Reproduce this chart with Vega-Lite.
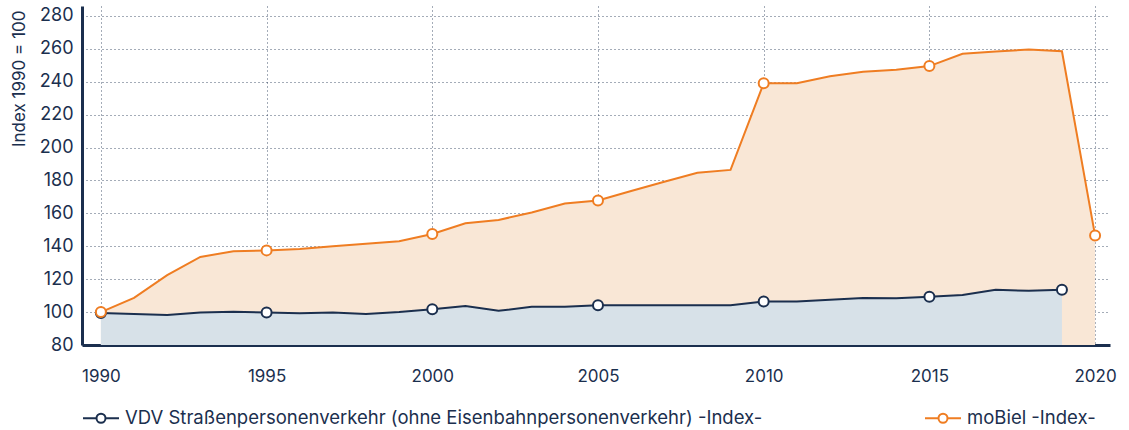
{
  "$schema": "https://vega.github.io/schema/vega-lite/v6.json",
  "width": 1028,
  "height": 339,
  "autosize": {"type": "none"},
  "padding": {"left": 82, "top": 6, "right": 19, "bottom": 85},
  "background": "white",
  "config": {
    "font": "Inter",
    "view": {"stroke": null},
    "axis": {"zindex": 1}
  },
  "data": {
    "values": [
      {"year": 1990, "series": "moBiel -Index-", "value": 100},
      {"year": 1991, "series": "moBiel -Index-", "value": 108.6},
      {"year": 1992, "series": "moBiel -Index-", "value": 122.5},
      {"year": 1993, "series": "moBiel -Index-", "value": 133.5},
      {"year": 1994, "series": "moBiel -Index-", "value": 137},
      {"year": 1995, "series": "moBiel -Index-", "value": 137.5},
      {"year": 1996, "series": "moBiel -Index-", "value": 138.4},
      {"year": 1997, "series": "moBiel -Index-", "value": 140},
      {"year": 1998, "series": "moBiel -Index-", "value": 141.5},
      {"year": 1999, "series": "moBiel -Index-", "value": 143},
      {"year": 2000, "series": "moBiel -Index-", "value": 147.5},
      {"year": 2001, "series": "moBiel -Index-", "value": 154},
      {"year": 2002, "series": "moBiel -Index-", "value": 156},
      {"year": 2003, "series": "moBiel -Index-", "value": 160.5},
      {"year": 2004, "series": "moBiel -Index-", "value": 166},
      {"year": 2005, "series": "moBiel -Index-", "value": 167.8},
      {"year": 2006, "series": "moBiel -Index-", "value": 173.6},
      {"year": 2007, "series": "moBiel -Index-", "value": 179.2},
      {"year": 2008, "series": "moBiel -Index-", "value": 184.7},
      {"year": 2009, "series": "moBiel -Index-", "value": 186.4},
      {"year": 2010, "series": "moBiel -Index-", "value": 239},
      {"year": 2011, "series": "moBiel -Index-", "value": 239},
      {"year": 2012, "series": "moBiel -Index-", "value": 243.3},
      {"year": 2013, "series": "moBiel -Index-", "value": 246},
      {"year": 2014, "series": "moBiel -Index-", "value": 247.3},
      {"year": 2015, "series": "moBiel -Index-", "value": 249.5},
      {"year": 2016, "series": "moBiel -Index-", "value": 257},
      {"year": 2017, "series": "moBiel -Index-", "value": 258.3},
      {"year": 2018, "series": "moBiel -Index-", "value": 259.5},
      {"year": 2019, "series": "moBiel -Index-", "value": 258.5},
      {"year": 2020, "series": "moBiel -Index-", "value": 146.5},
      {"year": 1990, "series": "VDV Straßenpersonenverkehr (ohne Eisenbahnpersonenverkehr) -Index-", "value": 99.5},
      {"year": 1991, "series": "VDV Straßenpersonenverkehr (ohne Eisenbahnpersonenverkehr) -Index-", "value": 98.8},
      {"year": 1992, "series": "VDV Straßenpersonenverkehr (ohne Eisenbahnpersonenverkehr) -Index-", "value": 98.2},
      {"year": 1993, "series": "VDV Straßenpersonenverkehr (ohne Eisenbahnpersonenverkehr) -Index-", "value": 99.8},
      {"year": 1994, "series": "VDV Straßenpersonenverkehr (ohne Eisenbahnpersonenverkehr) -Index-", "value": 100.2},
      {"year": 1995, "series": "VDV Straßenpersonenverkehr (ohne Eisenbahnpersonenverkehr) -Index-", "value": 99.8},
      {"year": 1996, "series": "VDV Straßenpersonenverkehr (ohne Eisenbahnpersonenverkehr) -Index-", "value": 99.3},
      {"year": 1997, "series": "VDV Straßenpersonenverkehr (ohne Eisenbahnpersonenverkehr) -Index-", "value": 99.8},
      {"year": 1998, "series": "VDV Straßenpersonenverkehr (ohne Eisenbahnpersonenverkehr) -Index-", "value": 98.9},
      {"year": 1999, "series": "VDV Straßenpersonenverkehr (ohne Eisenbahnpersonenverkehr) -Index-", "value": 100},
      {"year": 2000, "series": "VDV Straßenpersonenverkehr (ohne Eisenbahnpersonenverkehr) -Index-", "value": 101.7},
      {"year": 2001, "series": "VDV Straßenpersonenverkehr (ohne Eisenbahnpersonenverkehr) -Index-", "value": 103.7},
      {"year": 2002, "series": "VDV Straßenpersonenverkehr (ohne Eisenbahnpersonenverkehr) -Index-", "value": 100.8},
      {"year": 2003, "series": "VDV Straßenpersonenverkehr (ohne Eisenbahnpersonenverkehr) -Index-", "value": 103.2},
      {"year": 2004, "series": "VDV Straßenpersonenverkehr (ohne Eisenbahnpersonenverkehr) -Index-", "value": 103.2},
      {"year": 2005, "series": "VDV Straßenpersonenverkehr (ohne Eisenbahnpersonenverkehr) -Index-", "value": 104.2},
      {"year": 2006, "series": "VDV Straßenpersonenverkehr (ohne Eisenbahnpersonenverkehr) -Index-", "value": 104.2},
      {"year": 2007, "series": "VDV Straßenpersonenverkehr (ohne Eisenbahnpersonenverkehr) -Index-", "value": 104.2},
      {"year": 2008, "series": "VDV Straßenpersonenverkehr (ohne Eisenbahnpersonenverkehr) -Index-", "value": 104.2},
      {"year": 2009, "series": "VDV Straßenpersonenverkehr (ohne Eisenbahnpersonenverkehr) -Index-", "value": 104.2},
      {"year": 2010, "series": "VDV Straßenpersonenverkehr (ohne Eisenbahnpersonenverkehr) -Index-", "value": 106.5},
      {"year": 2011, "series": "VDV Straßenpersonenverkehr (ohne Eisenbahnpersonenverkehr) -Index-", "value": 106.5},
      {"year": 2012, "series": "VDV Straßenpersonenverkehr (ohne Eisenbahnpersonenverkehr) -Index-", "value": 107.5},
      {"year": 2013, "series": "VDV Straßenpersonenverkehr (ohne Eisenbahnpersonenverkehr) -Index-", "value": 108.5},
      {"year": 2014, "series": "VDV Straßenpersonenverkehr (ohne Eisenbahnpersonenverkehr) -Index-", "value": 108.4},
      {"year": 2015, "series": "VDV Straßenpersonenverkehr (ohne Eisenbahnpersonenverkehr) -Index-", "value": 109.3},
      {"year": 2016, "series": "VDV Straßenpersonenverkehr (ohne Eisenbahnpersonenverkehr) -Index-", "value": 110.4},
      {"year": 2017, "series": "VDV Straßenpersonenverkehr (ohne Eisenbahnpersonenverkehr) -Index-", "value": 113.5},
      {"year": 2018, "series": "VDV Straßenpersonenverkehr (ohne Eisenbahnpersonenverkehr) -Index-", "value": 112.9},
      {"year": 2019, "series": "VDV Straßenpersonenverkehr (ohne Eisenbahnpersonenverkehr) -Index-", "value": 113.6}
    ]
  },
  "encoding": {
    "x": {
      "field": "year",
      "type": "quantitative",
      "scale": {"domain": [1989.43, 2020.45], "nice": false, "zero": false},
      "axis": {
        "values": [1990, 1995, 2000, 2005, 2010, 2015, 2020],
        "format": "d",
        "title": null,
        "ticks": false,
        "labelPadding": 23,
        "labelFontSize": 17,
        "labelColor": "#1b2f4e",
        "domainColor": "#1b2f4e",
        "domainWidth": 3,
        "grid": true,
        "gridColor": "#1b2f4e",
        "gridDash": [1, 3],
        "gridWidth": 1,
        "gridOpacity": 0.8
      }
    },
    "y": {
      "field": "value",
      "type": "quantitative",
      "scale": {"domain": [80, 286], "nice": false, "zero": false},
      "axis": {
        "values": [80, 100, 120, 140, 160, 180, 200, 220, 240, 260, 280],
        "title": "Index 1990 = 100",
        "titleFontSize": 17,
        "titleFontWeight": "normal",
        "titleColor": "#1b2f4e",
        "titleAnchor": "end",
        "titleY": 4,
        "titlePadding": 11,
        "ticks": false,
        "labelPadding": 9,
        "labelFontSize": 18,
        "labelColor": "#1b2f4e",
        "domainColor": "#1b2f4e",
        "domainWidth": 3,
        "grid": true,
        "gridColor": "#1b2f4e",
        "gridDash": [1, 3],
        "gridWidth": 1,
        "gridOpacity": 0.8
      }
    }
  },
  "layer": [
    {
      "transform": [{"filter": "datum.series == 'moBiel -Index-'"}],
      "mark": {"type": "area", "color": "#f9e7d6", "clip": true}
    },
    {
      "transform": [{"filter": "datum.series != 'moBiel -Index-'"}],
      "mark": {"type": "area", "color": "#d7e1e8", "clip": true}
    },
    {
      "mark": {"type": "line", "strokeWidth": 2, "clip": true},
      "encoding": {
        "color": {
          "field": "series",
          "type": "nominal",
          "scale": {
            "domain": ["VDV Straßenpersonenverkehr (ohne Eisenbahnpersonenverkehr) -Index-", "moBiel -Index-"],
            "range": ["#1b2f4e", "#ef7d22"]
          },
          "legend": {
            "title": null,
            "orient": "none",
            "legendX": 0,
            "legendY": 393,
            "direction": "horizontal",
            "columns": 2,
            "columnPadding": 158,
            "labelFontSize": 18.5,
            "labelColor": "#1b2f4e",
            "labelLimit": 900,
            "symbolSize": 1296,
            "symbolStrokeWidth": 2,
            "symbolType": "M-1,0L-0.25,0M0.25,0L1,0M-0.25,0A0.25,0.25 0 1,0 0.25,0A0.25,0.25 0 1,0 -0.25,0",
            "labelOffset": 5,
            "encode": {"symbols": {"update": {"fill": {"value": "white"}}}}
          }
        }
      }
    },
    {
      "transform": [{"filter": "datum.year % 5 == 0 || datum.year == 2019 && datum.series != 'moBiel -Index-'"}],
      "mark": {"type": "point", "filled": true, "fill": "white", "size": 100, "strokeWidth": 2, "opacity": 1},
      "encoding": {
        "stroke": {
          "field": "series",
          "type": "nominal",
          "scale": {
            "domain": ["VDV Straßenpersonenverkehr (ohne Eisenbahnpersonenverkehr) -Index-", "moBiel -Index-"],
            "range": ["#1b2f4e", "#ef7d22"]
          },
          "legend": null
        },
        "order": {"field": "series", "sort": "ascending"}
      }
    }
  ]
}
